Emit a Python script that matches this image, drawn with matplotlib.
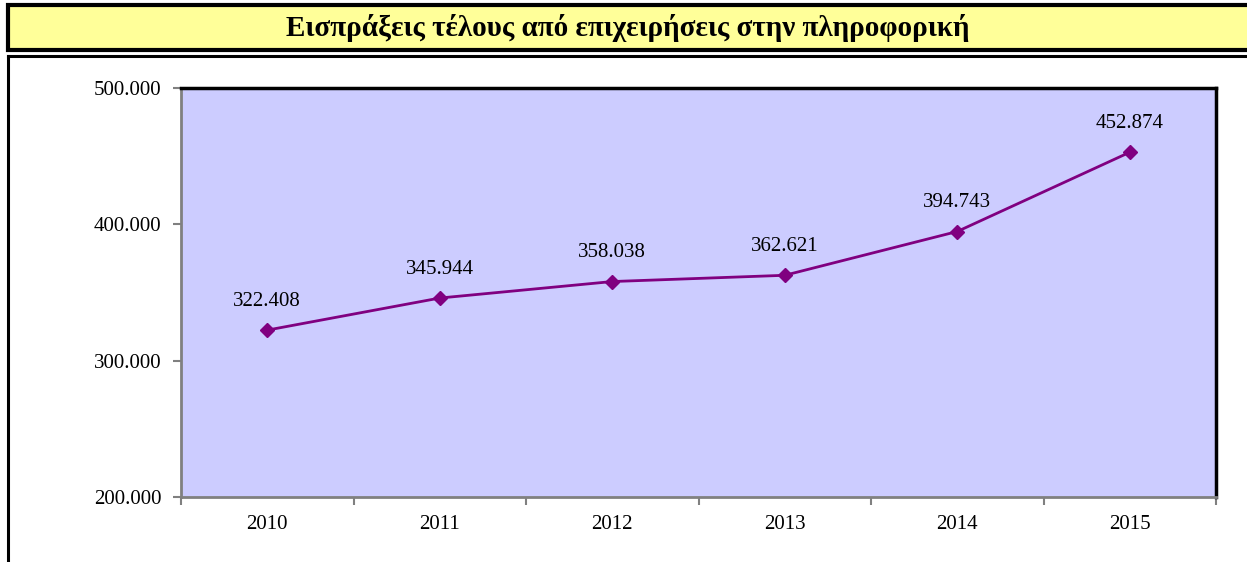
import matplotlib.pyplot as plt
from matplotlib.patches import Rectangle
from matplotlib.lines import Line2D
from matplotlib.ticker import FixedLocator, FuncFormatter

years = ["2010", "2011", "2012", "2013", "2014", "2015"]
receipts = [322408, 345944, 358038, 362621, 394743, 452874]
title = "Εισπράξεις τέλους από επιχειρήσεις στην πληροφορική"

plt.rcParams['font.family'] = ['Liberation Serif', 'DejaVu Serif']

W, H = 1247, 562
fig = plt.figure(figsize=(W / 100, H / 100), dpi=100)

# pixel helpers for the frame boxes
def fx(px):
    return px / W

def fy(py):
    return 1 - py / H

# title box
fig.patches.append(Rectangle((fx(8), fy(50)), fx(1250) - fx(8), fy(5) - fy(50),
                             transform=fig.transFigure, facecolor='#FFFF99',
                             edgecolor='black', linewidth=3, zorder=0))
fig.text(fx(628), fy(28), title, ha='center', va='center',
         fontsize=21, fontweight='bold')

# chart box (left and top edges only)
fig.lines.append(Line2D([fx(8), fx(8)], [0, fy(56)], transform=fig.transFigure,
                        color='black', linewidth=2.2))
fig.lines.append(Line2D([fx(8), 1], [fy(56), fy(56)], transform=fig.transFigure,
                        color='black', linewidth=2.2))

ax = fig.add_axes([fx(181), fy(497), fx(1216) - fx(181), fy(88) - fy(497)])
ax.set_facecolor('#CCCCFF')

x = list(range(len(years)))
ax.plot(x, receipts, color='#800080', linewidth=2, marker='D', markersize=7,
        zorder=3)
for xi, v in zip(x, receipts):
    ax.annotate(f"{v:,}".replace(",", "."), (xi, v), xytext=(0, 14),
                textcoords='offset points', ha='center', va='bottom',
                fontsize=15)

ax.set_xlim(-0.5, len(years) - 0.5)
ax.set_ylim(200000, 500000)
ax.set_yticks([200000, 300000, 400000, 500000])
ax.yaxis.set_major_formatter(FuncFormatter(lambda v, p: f"{int(v):,}".replace(",", ".")))
ax.set_xticks(x)
ax.set_xticklabels(years)
ax.xaxis.set_minor_locator(FixedLocator([i - 0.5 for i in range(len(years) + 1)]))
ax.tick_params(axis='x', which='major', length=0, pad=13, labelsize=15)
ax.tick_params(axis='x', which='minor', length=6, width=1.5, color='#808080')
ax.tick_params(axis='y', length=6, width=1.5, color='#808080', pad=8, labelsize=15)

for side in ['left', 'bottom']:
    ax.spines[side].set_color('#808080')
    ax.spines[side].set_linewidth(2)
for side in ['top', 'right']:
    ax.spines[side].set_color('black')
    ax.spines[side].set_linewidth(2.5)

fig.savefig('out.png', dpi=100)
